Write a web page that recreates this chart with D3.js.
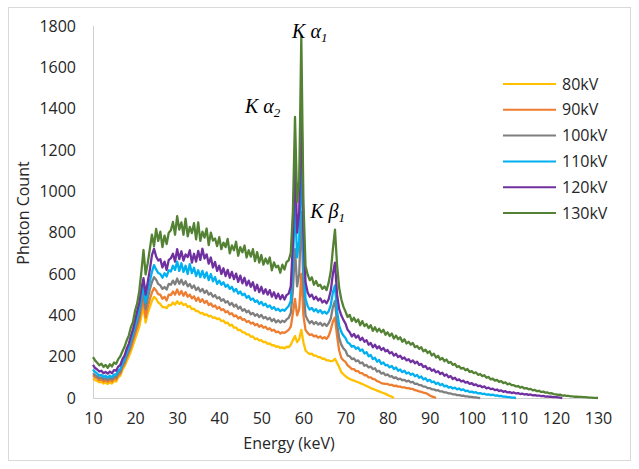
<!DOCTYPE html>
<html><head><meta charset="utf-8">
<script src="https://cdn.jsdelivr.net/npm/d3@7"></script>
<style>body{margin:0;background:#fff}svg{display:block}</style>
</head><body>
<svg id="chart" width="639" height="469"></svg>
<script>
// Energy channels (keV)
const energies = [
10,10.5,11,11.5,12,12.5,13,13.5,14,14.5,15,15.5,16,16.5,17,17.5,18,18.5,19,19.5,
20,20.5,21,21.5,22,22.5,23,23.5,24,24.5,25,25.5,26,26.5,27,27.5,28,28.5,29,29.5,
30,30.5,31,31.5,32,32.5,33,33.5,34,34.5,35,35.5,36,36.5,37,37.5,38,38.5,39,39.5,
40,40.5,41,41.5,42,42.5,43,43.5,44,44.5,45,45.5,46,46.5,47,47.5,48,48.5,49,49.5,
50,50.5,51,51.5,52,52.5,53,53.5,54,54.5,55,55.5,56,56.5,57,57.5,58,58.5,59,59.5,
60,60.5,61,61.5,62,62.5,63,63.5,64,64.5,65,65.5,66,66.5,67,67.5,68,68.5,69,69.5,
70,70.5,71,71.5,72,72.5,73,73.5,74,74.5,75,75.5,76,76.5,77,77.5,78,78.5,79,79.5,
80,80.5,81,81.5,82,82.5,83,83.5,84,84.5,85,85.5,86,86.5,87,87.5,88,88.5,89,89.5,
90,90.5,91,91.5,92,92.5,93,93.5,94,94.5,95,95.5,96,96.5,97,97.5,98,98.5,99,99.5,
100,100.5,101,101.5,102,102.5,103,103.5,104,104.5,105,105.5,106,106.5,107,107.5,108,108.5,109,109.5,
110,110.5,111,111.5,112,112.5,113,113.5,114,114.5,115,115.5,116,116.5,117,117.5,118,118.5,119,119.5,
120,120.5,121,121.5,122,122.5,123,123.5,124,124.5,125,125.5,126,126.5,127,127.5,128,128.5,129,129.5,
130];

const kv80 = [
95,86,82,76,78,70,74,68,76,70,82,80,100,108,135,155,178,200,225,255,
285,315,345,398,440,365,410,440,470,489,480,462,455,440,440,435,450,448,462,452,
468,455,462,450,455,440,445,430,432,420,420,410,412,402,405,395,398,388,390,382,
385,372,375,362,365,350,355,340,342,328,330,318,318,308,308,296,298,285,288,278,
280,270,272,262,264,255,256,248,250,242,245,240,248,246,258,280,300,270,285,330,
270,230,220,212,215,205,205,198,198,190,190,182,182,178,180,190,170,150,125,115,
105,98,92,88,84,80,76,72,68,63,58,53,48,44,40,36,32,28,24,20,
15,10,6,0];

const kv90 = [
110,100,94,86,90,80,86,78,88,80,92,90,110,118,148,165,195,218,245,278,
310,342,375,432,480,390,440,478,510,532,520,502,500,480,490,472,500,498,515,500,
525,500,518,495,512,490,500,482,492,470,485,465,478,460,470,450,458,442,448,432,
440,425,430,415,420,405,410,395,400,385,392,378,382,368,373,360,365,352,358,345,
352,340,345,332,338,325,330,318,322,312,318,315,322,330,345,410,480,400,430,600,
400,330,315,305,308,298,302,292,298,288,294,286,300,330,370,390,300,230,195,182,
175,158,150,140,140,130,130,120,120,110,110,100,100,92,90,82,78,72,70,68,
68,63,64,58,60,55,55,51,51,48,48,44,44,38,36,32,30,26,24,20,
12,8,4,0];

const kv100 = [
120,110,104,96,100,90,96,88,98,90,102,100,120,128,158,175,205,228,262,292,
330,365,400,462,515,430,480,525,560,585,572,552,545,528,537,525,552,548,568,550,
578,552,572,548,565,540,552,532,545,522,535,515,528,508,520,500,508,490,498,482,
488,470,478,462,468,450,460,442,452,432,442,422,430,415,422,405,412,398,406,392,
402,386,392,380,388,372,382,366,376,365,374,368,380,388,410,520,720,540,600,900,
540,400,378,362,372,358,368,355,364,350,360,348,362,385,440,470,360,290,258,240,
230,205,202,188,192,178,182,168,172,156,160,148,152,140,144,128,132,118,122,110,
114,104,106,96,100,90,94,86,88,80,84,76,78,68,70,62,62,55,55,48,
48,42,42,37,38,32,32,27,27,22,22,18,18,14,14,11,11,8,8,5,
5,3,3,1,0];

const kv110 = [
138,126,118,108,112,102,108,98,108,100,114,112,132,140,170,188,220,245,282,315,
350,390,430,492,545,462,520,565,610,643,622,605,600,582,604,588,618,612,640,620,
660,615,652,610,640,600,648,604,630,590,618,585,615,582,608,570,600,565,585,552,
568,548,560,538,548,528,538,515,528,505,515,498,505,485,494,475,482,465,472,455,
465,448,456,440,448,432,440,425,432,420,428,422,434,445,470,650,950,680,760,1200,
680,480,445,428,436,420,430,415,425,410,418,408,420,450,510,545,420,350,320,302,
290,268,262,248,252,238,245,228,235,215,222,202,208,188,195,176,184,165,172,158,
160,148,155,140,148,132,138,125,132,118,124,112,118,105,112,98,104,90,96,82,
88,76,80,68,74,62,68,56,60,50,54,46,50,42,46,38,42,33,36,28,
31,26,28,22,24,19,21,16,18,14,16,12,13,9,10,7,7,4,4,2,
2,0];

const kv120 = [
160,145,138,128,132,120,126,118,128,120,135,132,152,160,188,205,238,262,300,332,
378,420,462,528,580,500,560,620,690,722,685,665,672,632,660,620,668,676,698,660,
720,672,710,665,695,682,715,655,698,660,712,668,722,675,695,650,680,632,658,615,
640,600,628,590,620,582,610,575,602,562,592,555,582,545,568,538,560,520,548,512,
538,505,526,500,522,490,512,482,505,478,498,476,498,505,540,750,1180,800,900,1480,
800,560,512,490,500,478,490,472,482,462,472,458,478,520,600,655,500,430,400,378,
360,330,318,298,310,292,302,280,292,272,280,258,266,245,258,240,250,232,242,226,
232,216,222,205,214,198,205,190,196,182,188,174,182,168,176,160,165,150,155,140,
145,132,138,124,130,116,122,108,114,100,106,92,98,86,90,80,84,74,78,68,
72,62,66,57,60,52,56,47,50,43,45,38,41,34,37,30,33,27,29,24,
27,22,24,19,21,17,19,15,17,13,14,11,12,9,10,7,8,6,6,4,
4,3,2,0];

const kv130 = [
198,182,170,158,166,150,160,146,163,152,172,165,188,202,226,248,278,302,342,368,
422,458,518,612,716,598,652,720,790,735,818,760,805,730,786,745,800,812,852,790,
880,815,850,790,868,782,828,798,846,768,850,760,805,776,820,740,800,762,772,735,
778,720,752,730,770,700,738,715,756,688,730,705,738,680,715,684,720,662,706,655,
692,645,675,650,680,618,656,632,640,606,645,622,658,666,702,900,1360,950,1050,1750,
950,640,598,570,584,548,566,542,548,528,540,522,558,612,720,815,642,532,478,442,
418,392,402,372,388,368,380,352,372,348,358,338,352,325,342,322,335,318,330,306,
318,300,312,288,302,284,294,272,284,264,272,258,266,246,252,238,246,226,234,218,
226,206,214,196,204,186,194,178,186,170,174,160,165,150,154,142,146,134,140,126,
130,120,124,112,116,106,110,98,102,90,94,84,88,78,82,72,76,66,70,62,
62,56,58,50,54,46,48,42,44,37,39,33,35,29,31,26,27,22,23,19,
18,15,16,12,13,10,10,8,8,6,6,5,5,4,4,3,2,2,1,1,
0];

const seriesNames = ["80kV","90kV","100kV","110kV","120kV","130kV"];
const seriesValues = [kv80, kv90, kv100, kv110, kv120, kv130];
const seriesColors = ["#FFC000","#ED7D31","#7F7F7F","#00B0F0","#7030A0","#548235"];
const xTicks = [10,20,30,40,50,60,70,80,90,100,110,120,130];
const yTicks = [0,200,400,600,800,1000,1200,1400,1600,1800];
const peakLabels = [
  {main:"K α", sub:"1", e:57.3, v:1742},
  {main:"K α", sub:"2", e:46.1, v:1380},
  {main:"K β", sub:"1", e:61.6, v:872}
];

const svg = d3.select("#chart");
const font = "'Open Sans', 'Liberation Sans', sans-serif";

svg.append("rect").attr("x",8.5).attr("y",7.5).attr("width",622).attr("height",453)
  .attr("fill","#fff").attr("stroke","#d9d9d9").attr("stroke-width",1);

const x = d3.scaleLinear().domain([10,130]).range([93,598]);
const y = d3.scaleLinear().domain([0,1800]).range([398,26]);

// axis lines
svg.append("line").attr("x1",93.5).attr("x2",93.5).attr("y1",y(1800)).attr("y2",398)
  .attr("stroke","#d0d0d0").attr("stroke-width",1);
svg.append("line").attr("x1",93).attr("x2",598).attr("y1",398.5).attr("y2",398.5)
  .attr("stroke","#d0d0d0").attr("stroke-width",1);

const yAxis = svg.append("g").attr("transform","translate(93,0)")
  .call(d3.axisLeft(y).tickValues(yTicks).tickFormat(d3.format("d")).tickSize(0).tickPadding(17));
yAxis.select(".domain").remove();
yAxis.selectAll("text").attr("font-family",font).attr("font-size",16).attr("fill","#262626");

const xAxis = svg.append("g").attr("transform","translate(0,398)")
  .call(d3.axisBottom(x).tickValues(xTicks).tickFormat(d3.format("d")).tickSize(0).tickPadding(15));
xAxis.select(".domain").remove();
xAxis.selectAll("text").attr("font-family",font).attr("font-size",16).attr("fill","#262626");

// axis titles
svg.append("text").attr("x",289).attr("y",449).attr("text-anchor","middle")
  .attr("font-family",font).attr("font-size",16).attr("fill","#262626").text("Energy (keV)");
svg.append("text").attr("transform","translate(29,213) rotate(-90)").attr("text-anchor","middle")
  .attr("font-family",font).attr("font-size",16).attr("fill","#262626").text("Photon Count");

// series
const line = d3.line().x((d,i)=>x(energies[i])).y(d=>y(d));
seriesValues.forEach((vals,k)=>{
  svg.append("path").datum(vals).attr("d",line).attr("fill","none")
    .attr("stroke",seriesColors[k]).attr("stroke-width",2.3).attr("stroke-linejoin","round");
});

// legend
seriesNames.forEach((name,k)=>{
  const ly = 84 + k*25.8;
  svg.append("line").attr("x1",503).attr("x2",556).attr("y1",ly).attr("y2",ly)
    .attr("stroke",seriesColors[k]).attr("stroke-width",2);
  svg.append("text").attr("x",562).attr("y",ly).attr("dy","0.35em")
    .attr("font-family",font).attr("font-size",16).attr("fill","#262626").text(name);
});

// peak annotations
peakLabels.forEach(p=>{
  const t = svg.append("text").attr("x",x(p.e)).attr("y",y(p.v))
    .attr("font-family","'Liberation Serif','Times New Roman',serif").attr("font-style","italic")
    .attr("font-size",20).attr("fill","#000");
  t.append("tspan").text(p.main);
  t.append("tspan").attr("font-size",13).attr("dy",4).text(p.sub);
});
</script>
</body></html>
